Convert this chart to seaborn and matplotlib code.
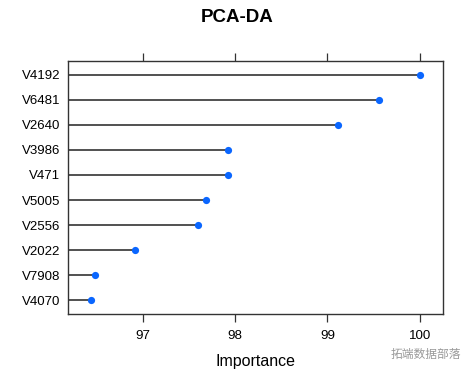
import numpy as np
import pandas as pd
import matplotlib
matplotlib.use("Agg")
import matplotlib.pyplot as plt
import seaborn as sns

# variable importance, top to bottom
variables = ["V4192", "V6481", "V2640", "V3986", "V471",
             "V5005", "V2556", "V2022", "V7908", "V4070"]
importance = [100.0, 99.56, 99.12, 97.92, 97.92,
              97.68, 97.60, 96.92, 96.48, 96.44]
x_ticks = [97, 98, 99, 100]

df = pd.DataFrame({"variable": variables, "importance": importance})

sns.set_style("white")
plt.rcParams['font.family'] = ['Liberation Sans', 'DejaVu Sans']
plt.rcParams['text.color'] = 'black'
plt.rcParams['axes.labelcolor'] = 'black'
plt.rcParams['xtick.color'] = 'black'
plt.rcParams['ytick.color'] = 'black'

fig = plt.figure(figsize=(4.74, 3.82), dpi=100)
ax = fig.add_axes([0.1441, 0.1772, 0.7899, 0.6639])

xmin, xmax = 96.194, 100.249
ax.set_xlim(xmin, xmax)

# stems from the left edge to each point
ypos = np.arange(len(df))
ax.hlines(ypos, xmin, df["importance"], color="#222222", linewidth=1.1, zorder=1)

sns.stripplot(data=df, x="importance", y="variable", order=variables,
              jitter=False, color="#0a66ff", size=5.2, linewidth=0,
              orient="h", ax=ax, zorder=3)

ax.set_ylim(len(df) - 1 + 0.57, -0.57)
ax.set_xlim(xmin, xmax)
ax.set_xticks(x_ticks)
ax.set_xticklabels([str(t) for t in x_ticks])

for s in ax.spines.values():
    s.set_visible(True)
    s.set_color("#333333")
    s.set_linewidth(1.0)

ax.tick_params(axis="x", which="both", top=True, bottom=True, labeltop=False,
               direction="out", length=6, width=0.9, color="#333333",
               labelsize=9.6, pad=5)
ax.tick_params(axis="y", length=0, labelsize=9.5, pad=6)

ax.set_ylabel("")
ax.set_xlabel("Importance", fontsize=11.5, labelpad=9)

fig.text(0.5, 1 - 17 / 382, "PCA-DA", ha="center", va="center",
         fontsize=13.5, fontweight="bold")

# watermark
fig.text(0.972, 1 - 354 / 382, "拓端数据部落", ha="right", va="center",
         fontsize=8.5, color="#999999",
         family=["Noto Sans CJK SC", "DejaVu Sans"])

fig.savefig("out.png", dpi=100)
plt.close(fig)
